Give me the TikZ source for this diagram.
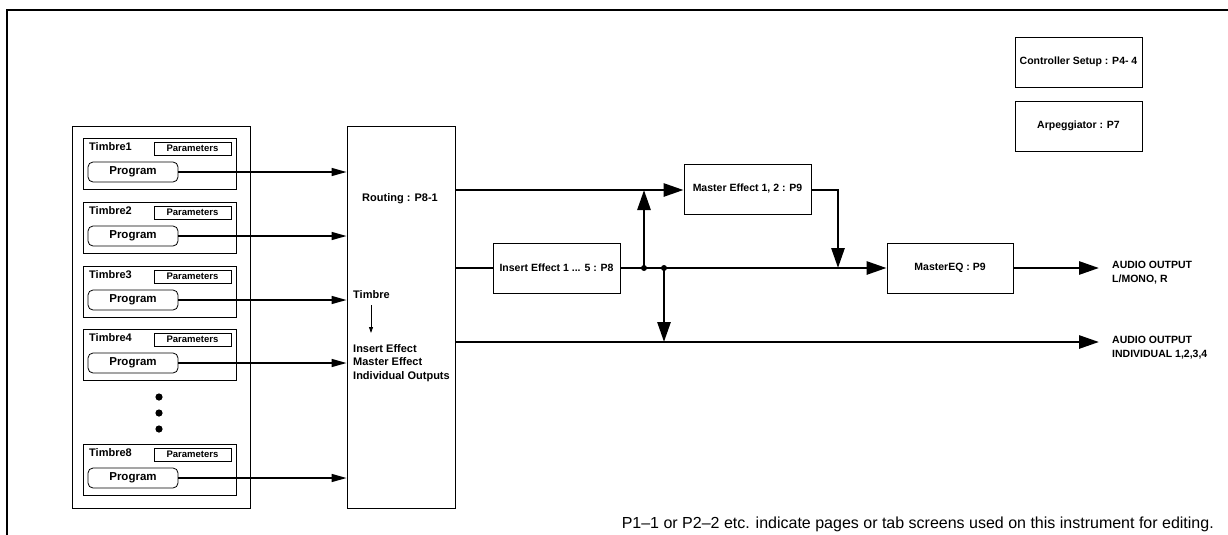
\documentclass[tikz,border=0pt]{standalone}
\usepackage{fontspec}
\setmainfont{Liberation Sans}
\usetikzlibrary{arrows.meta}
\tikzset{
  box/.style={draw, line width=0.9pt, minimum width=127pt, minimum height=50pt, inner sep=0pt, font=\fontsize{10.5}{12}\selectfont\bfseries},
  tbox/.style={draw, line width=0.9pt, minimum width=153pt, minimum height=51pt, inner sep=0pt},
  parbox/.style={draw, line width=0.8pt, minimum width=77pt, minimum height=13pt, inner sep=0pt, font=\fontsize{9.5}{10}\selectfont\bfseries},
  progbox/.style={draw, line width=0.8pt, rounded corners=5pt, minimum width=90pt, minimum height=20pt, inner sep=0pt, font=\fontsize{11.5}{12}\selectfont\bfseries},
  lbl/.style={inner sep=0pt, font=\fontsize{11}{12}\selectfont\bfseries},
  outlbl/.style={inner sep=0pt, align=left, font=\fontsize{10.5}{14}\selectfont\bfseries},
  thinarrow/.style={line width=1.5pt, -{Triangle[length=15pt,width=8pt]}},
  thick/.style={line width=2.8pt},
  thickarrow/.style={line width=2.8pt, -{Triangle[length=20pt,width=13pt]}},
  frame/.style={line width=1.2pt},
}
\begin{document}
\begin{tikzpicture}[x=1pt,y=-1pt]
\useasboundingbox (0,0) rectangle (1228,535);
% frame
\draw[frame] (7,535) -- (7,10) -- (1228,10);
% big boxes
\node[draw, line width=0.9pt, minimum width=178pt, minimum height=382pt, inner sep=0pt] (left) at (161,317) {};
\node[draw, line width=0.9pt, minimum width=108pt, minimum height=382pt, inner sep=0pt] (routing) at (401,317) {};
% timbres
\foreach \n/\t in {1/138,2/202,3/266,4/329,8/444}{
  \node[tbox] (t\n) at (159.5,\t+25.5) {};
  \node[lbl, anchor=west] (tl\n) at (89,\t+9) {Timbre\n};
  \node[parbox] (pa\n) at (192.5,\t+10.5) {Parameters};
  \node[progbox] (pr\n) at (133,\t+34) {Program};
  \draw[thinarrow] (pr\n.east) -- (pr\n.east -| routing.west);
}
% dots
\fill (159,397) circle (3.6pt);
\fill (159,413) circle (3.6pt);
\fill (159,429) circle (3.6pt);
% routing texts
\node[lbl] (rt) at (400,199) {Routing : P8-1};
\node[lbl, anchor=west] (tt) at (353,295) {Timbre};
\node[lbl, anchor=north west, align=left, font=\fontsize{11}{13.5}\selectfont\bfseries] (it) at (353,344) {Insert Effect\\Master Effect\\Individual Outputs};
\draw[line width=0.8pt, -{Triangle[length=6pt,width=4pt]}] (371,305) -- (371,333);
% effect boxes
\node[box] (ins) at (556.5,268) {Insert Effect 1 ... 5 : P8};
\node[box] (me) at (747.5,189) {Master Effect 1, 2 : P9};
\node[box, minimum width=126pt] (eq) at (950,268) {MasterEQ : P9};
\node[box] (cs) at (1078.5,62) {Controller Setup : P4- 4};
\node[box] (arp) at (1078.5,126) {Arpeggiator : P7};
% coordinates
\coordinate (r1) at (455,190);
\coordinate (r2) at (455,268);
\coordinate (r3) at (455,342);
\coordinate (j1) at (644,268);
\coordinate (j2) at (664,268);
\coordinate (mc) at (838,190);
\coordinate (o1) at (1099,268);
\coordinate (o2) at (1099,342);
% connectors
\draw[thickarrow] (r1) -- (r1 -| me.west);
\draw[thick] (r2) -- (ins.west);
\draw[thickarrow] (ins.east) -- (eq.west);
\draw[thickarrow] (j1) -- (j1 |- r1);
\draw[thickarrow] (j2) -- (j2 |- r3);
\draw[thickarrow] (r3) -- (o2);
\draw[thickarrow] (me.east |- mc) -- (mc) -- (mc |- j1);
\draw[thickarrow] (eq.east) -- (o1);
\fill (j1) circle (3pt);
\fill (j2) circle (3pt);
% output labels
\node[outlbl, anchor=north west] (a1) at (1112,261) {AUDIO OUTPUT\\L/MONO, R};
\node[outlbl, anchor=north west] (a2) at (1112,336) {AUDIO OUTPUT\\INDIVIDUAL 1,2,3,4};
% footnote
\node[inner sep=0pt, anchor=base east, font=\fontsize{16}{17}\selectfont] (fn) at (1214,528) {P1--1 or P2--2 etc. indicate pages or tab screens used on this instrument for editing.};
\end{tikzpicture}
\end{document}
